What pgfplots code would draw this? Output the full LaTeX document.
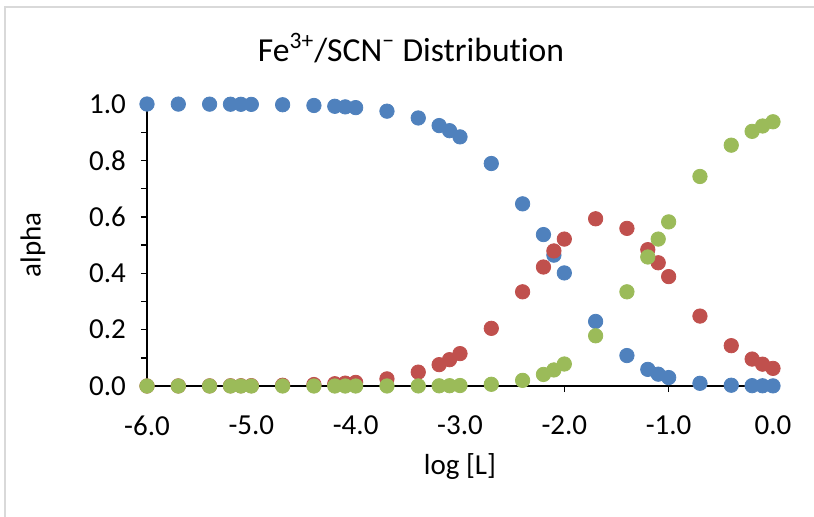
\documentclass[border=0pt]{standalone}
\usepackage{pgfplots}
\pgfplotsset{compat=1.18}
\usepackage{fontspec}
\setmainfont{Carlito}[Ligatures={NoCommon}]
\definecolor{cblue}{HTML}{4F81BD}
\definecolor{cred}{HTML}{C0504D}
\definecolor{cgreen}{HTML}{9BBB59}
\definecolor{bord}{HTML}{D9D9D9}
\begin{document}
\begin{tikzpicture}
\path[use as bounding box] (-73.5pt,-65pt) rectangle (333.5pt,193pt);
\draw[bord, line width=1pt] (-71pt,-66pt) -- (-71pt,189.5pt) -- (334pt,189.5pt);
\begin{axis}[
  at={(0pt,0pt)}, anchor=south west,
  scale only axis, width=313pt, height=141pt,
  xmin=-6, xmax=0, ymin=0, ymax=1,
  axis lines=left, axis line style={-, line width=0.8pt},
  xtick={-6,-5,-4,-3,-2,-1,0},
  ytick={0,0.2,0.4,0.6,0.8,1.0},
  minor ytick={0.1,0.3,0.5,0.7,0.9},
  tick align=outside, major tick length=3pt, minor tick length=3pt,
  tick style={black, line width=0.7pt},
  ticklabel style={font=\fontsize{14.5}{17}\selectfont,
    /pgf/number format/fixed, /pgf/number format/fixed zerofill,
    /pgf/number format/precision=1, /pgf/number format/assume math mode=true},
  xticklabel style={yshift=-8.5pt},
  yticklabel style={xshift=-4pt},
  clip=false,
  every axis plot/.append style={only marks, mark=*, mark size=3.6pt},
]
\addplot[cblue, mark options={fill=cblue, draw=cblue}] coordinates {
(-6.0,0.9999) (-5.7,0.9997) (-5.4,0.9995) (-5.2,0.9992) (-5.1,0.9990) (-5.0,0.9987)
(-4.7,0.9974) (-4.4,0.9948) (-4.2,0.9919) (-4.1,0.9898) (-4.0,0.9872)
(-3.7,0.9746) (-3.4,0.9505) (-3.2,0.9235) (-3.1,0.9054) (-3.0,0.8834)
(-2.7,0.789) (-2.4,0.646) (-2.2,0.537) (-2.1,0.464) (-2.0,0.401)
(-1.7,0.229) (-1.4,0.108) (-1.2,0.059) (-1.1,0.042) (-1.0,0.030)
(-0.7,0.0096) (-0.4,0.0028) (-0.2,0.0012) (-0.1,0.0008) (0.0,0.0005)
};
\addplot[cred, mark options={fill=cred, draw=cred}] coordinates {
(-6.0,0.0001) (-5.7,0.0003) (-5.4,0.0005) (-5.2,0.0008) (-5.1,0.0010) (-5.0,0.0013)
(-4.7,0.0026) (-4.4,0.0052) (-4.2,0.0081) (-4.1,0.0102) (-4.0,0.0128)
(-3.7,0.0253) (-3.4,0.0492) (-3.2,0.0757) (-3.1,0.0934) (-3.0,0.1148)
(-2.7,0.2045) (-2.4,0.334) (-2.2,0.422) (-2.1,0.479) (-2.0,0.521)
(-1.7,0.593) (-1.4,0.559) (-1.2,0.4835) (-1.1,0.437) (-1.0,0.388)
(-0.7,0.248) (-0.4,0.143) (-0.2,0.0955) (-0.1,0.0774) (0.0,0.0625)
};
\addplot[cgreen, mark options={fill=cgreen, draw=cgreen}] coordinates {
(-6.0,0.0) (-5.7,0.0) (-5.4,0.0) (-5.2,0.0) (-5.1,0.0) (-5.0,0.0)
(-4.7,0.0) (-4.4,0.0) (-4.2,0.0) (-4.1,0.0) (-4.0,0.0)
(-3.7,0.0001) (-3.4,0.0003) (-3.2,0.0007) (-3.1,0.0011) (-3.0,0.0017)
(-2.7,0.0061) (-2.4,0.020) (-2.2,0.041) (-2.1,0.057) (-2.0,0.078)
(-1.7,0.178) (-1.4,0.334) (-1.2,0.4575) (-1.1,0.521) (-1.0,0.582)
(-0.7,0.743) (-0.4,0.854) (-0.2,0.903) (-0.1,0.922) (0.0,0.937)
};
\end{axis}
\node[font=\fontsize{16.8}{20}\selectfont] at (132pt,169pt) {Fe\textsuperscript{3+}/SCN\textsuperscript{\char"2212} Distribution};
\node[font=\fontsize{14.5}{17}\selectfont, rotate=90] at (-57pt,70.5pt) {alpha};
\node[font=\fontsize{14.5}{17}\selectfont] at (156.5pt,-40.5pt) {log [L]};
\end{tikzpicture}
\end{document}
